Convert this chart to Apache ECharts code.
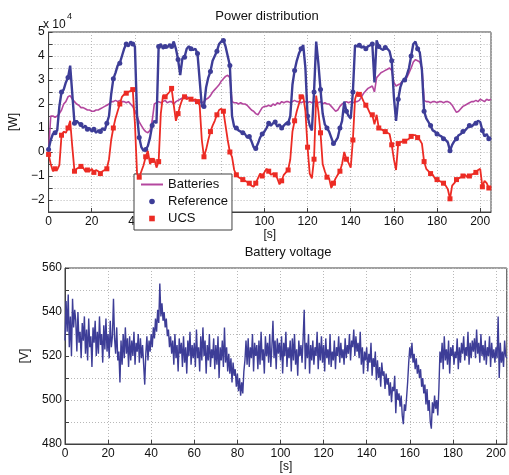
<!DOCTYPE html>
<html>
<head>
<meta charset="utf-8">
<script src="https://cdn.jsdelivr.net/npm/echarts@6/dist/echarts.min.js"></script>
<style>
  html, body { margin: 0; padding: 0; background: #fff; }
  #chart { width: 509px; height: 475px; }
</style>
</head>
<body>
<div id="chart"></div>
<script>
// power values in units of 1e4 W, one sample per second (0 .. 205 s)
const batteries = [
  0.0, 1.5, 1.5, 1.45, 1.5, 1.6, 1.75, 2.0, 2.1, 2.3, 2.35, 2.2, 2.1, 2.0, 1.95, 1.85, 1.85, 1.8, 1.75, 1.75,
  1.7, 1.7, 1.75, 1.75, 1.8, 1.85, 1.9, 1.95, 2.0, 2.1, 2.1, 2.15, 2.1, 2.15, 2.1, 2.1, 2.05, 2.1, 2.0, 1.9,
  1.7, 1.5, 1.25, 1.1, 0.95, 0.85, 0.8, 0.9, 1.3, 2.0, 2.05, 2.1, 2.05, 2.1, 2.15, 2.05, 2.1, 2.1, 2.0, 2.1,
  2.15, 2.2, 2.25, 2.3, 2.3, 2.25, 2.2, 2.15, 2.1, 2.1, 2.1, 2.05, 2.1, 2.2, 2.25, 2.35, 2.5, 2.6, 2.7, 2.8,
  2.95, 3.05, 3.15, 3.2, 3.1, 2.1, 2.05, 2.05, 2.0, 2.05, 2.0, 2.0, 1.95, 1.85, 1.75, 1.7, 1.6, 1.55, 1.7, 1.85,
  1.9, 1.9, 1.95, 1.9, 2.0, 1.95, 2.05, 2.0, 2.1, 2.05, 2.1, 2.1, 2.05, 2.1, 2.15, 2.1, 2.1, 2.05, 2.1, 2.1,
  2.05, 2.1, 2.05, 2.1, 2.1, 2.05, 2.1, 2.0, 2.05, 2.0, 2.0, 1.9, 1.8, 1.7, 1.75, 1.9, 2.0, 2.05, 2.1, 2.05,
  2.1, 2.05, 2.1, 2.1, 2.15, 2.3, 2.45, 2.55, 2.65, 2.7, 2.75, 2.5, 3.1, 3.2, 3.3, 3.35, 3.4, 3.45, 3.5, 3.4,
  2.9, 2.75, 2.8, 2.85, 2.95, 3.0, 3.1, 3.3, 3.5, 3.75, 3.85, 3.8, 3.75, 3.5, 2.15, 2.1, 2.1, 2.05, 2.1, 2.1,
  2.05, 2.1, 2.1, 2.05, 2.1, 2.1, 2.05, 1.95, 1.8, 1.65, 1.7, 1.8, 1.9, 1.95, 2.0, 2.05, 2.1, 2.1, 2.15, 2.1,
  2.2, 2.15, 2.1, 2.2, 2.15, 2.2
];
const reference = [
  0.1, 0.5, 0.75, 0.8, 0.9, 1.9, 2.5, 2.6, 2.9, 3.1, 3.6, 2.4, 1.2, 1.3, 1.2, 1.15, 1.0, 1.1, 0.95, 1.0,
  0.85, 0.95, 0.8, 0.9, 0.85, 1.0, 0.9, 1.2, 1.5, 2.4, 3.05, 3.3, 3.6, 3.7, 4.0, 4.3, 4.5, 4.4, 4.6, 4.5,
  4.4, 1.5, 0.6, 0.2, 0.05, 0.1, 0.25, 0.6, 1.1, 1.3, 1.2, 4.4, 4.5, 4.3, 4.4, 4.35, 4.5, 4.4, 4.6, 4.3,
  3.85, 3.2, 3.9, 3.95, 4.3, 4.4, 4.3, 4.25, 4.3, 4.1, 3.0, 1.9, 1.9, 2.7, 3.1, 3.35, 3.8, 4.0, 4.2, 4.5,
  4.6, 4.65, 4.4, 4.0, 3.6, 1.5, 1.05, 1.0, 0.9, 0.85, 0.8, 0.75, 0.6, 0.65, 0.45, 0.2, 0.15, 0.35, 0.6, 0.75,
  0.85, 1.0, 1.2, 1.1, 1.2, 1.25, 1.05, 1.15, 1.0, 1.1, 1.2, 1.2, 1.5, 2.8, 3.4, 3.8, 4.1, 4.3, 4.45, 3.5,
  1.5, 1.1, 0.9, 2.5, 4.6, 3.7, 2.6, 1.6, 1.15, 1.0, 0.85, 0.6, 0.35, 0.45, 0.6, 1.0, 1.3, 2.1, 1.7, 1.5,
  1.4, 2.5, 4.45, 4.4, 4.45, 4.35, 4.4, 4.3, 4.4, 4.45, 4.5, 2.9, 4.65, 4.4, 4.3, 4.25, 4.35, 4.3, 4.2, 3.8,
  2.3, 1.3, 2.2, 2.7, 2.95, 3.0, 3.2, 3.5, 4.0, 4.5, 4.6, 4.3, 4.15, 3.4, 1.7, 1.4, 1.25, 1.1, 0.9, 0.85,
  0.75, 0.7, 0.65, 0.55, 0.5, 0.4, 0.05, 0.3, 0.45, 0.55, 0.7, 0.75, 0.85, 0.9, 1.0, 1.1, 1.05, 1.15, 1.2, 1.3,
  1.25, 0.9, 0.65, 0.75, 0.55, 0.6
];
const ucs = [
  -0.1, -0.5, -0.8, -0.7, -0.75, -0.55, 0.7, 0.85, 0.8, 1.0, 1.3, 0.2, -0.8, -0.7, -0.65, -0.6, -0.65, -0.8, -0.75, -0.8,
  -0.7, -0.85, -0.75, -0.8, -0.9, -0.8, -0.75, -0.7, -0.3, 0.5, 1.0, 1.4, 1.7, 2.0, 2.3, 2.4, 2.45, 2.5, 2.55, 2.6,
  1.2, -0.9, -1.05, -0.8, -0.55, -0.2, 0.05, -0.5, -0.35, -0.3, -0.65, -0.4, 1.6, 2.35, 2.3, 2.4, 2.5, 2.65, 1.95, 1.3,
  1.6, 1.95, 2.2, 2.3, 2.2, 2.25, 2.2, 2.15, 2.2, 2.1, 1.95, 0.5, -0.2, 0.1, 0.5, 0.85, 1.1, 1.3, 1.55, 1.75,
  1.8, 1.7, 1.1, 0.5, 0.0, -0.2, -0.75, -0.95, -1.05, -1.1, -1.15, -1.2, -1.25, -1.3, -1.4, -1.45, -1.3, -1.1, -0.9, -1.0,
  -0.85, -0.7, -0.8, -0.95, -0.9, -0.95, -1.1, -1.35, -1.2, -0.95, -0.85, -0.75, -0.3, 0.85, 1.3, 1.7, 2.0, 2.3, 2.35, 1.7,
  0.2, -0.9, -1.1, -0.3, 2.35, 1.7, 0.8, -0.5, -0.8, -1.05, -1.1, -1.5, -1.3, -1.1, -0.95, -0.8, -0.5, 0.0, -0.3, -0.45,
  -0.65, 0.5, 2.2, 2.5, 2.4, 2.3, 2.1, 1.95, 1.8, 1.6, 1.55, 1.15, 1.55, 1.0, 0.95, 0.9, 0.85, 0.8, 0.75, 0.3,
  -0.3, -0.75, 0.35, 0.4, 0.45, 0.45, 0.5, 0.55, 0.65, 0.7, 0.7, 0.6, 0.5, 0.35, -0.4, -0.7, -0.8, -0.9, -0.95, -1.1,
  -1.15, -1.2, -1.25, -1.3, -1.4, -1.55, -1.95, -1.4, -1.3, -1.15, -1.1, -1.05, -1.0, -0.95, -1.05, -1.0, -0.95, -0.9, -0.85, -0.75,
  -0.7, -1.45, -1.2, -1.3, -1.5, -1.45
];

// battery voltage [V], one sample every 0.5 s
const voltage = [
  527, 545, 531, 548, 524, 538, 520, 546, 533, 541,
  536, 522, 540, 526, 531, 519, 535, 527, 538, 521,
  532, 518, 537, 524, 529, 515, 533, 526, 536, 520,
  531, 521, 538, 525, 530, 517, 534, 523, 537, 522,
  530, 519, 536, 524, 529, 546, 528, 521, 533, 518,
  522, 508, 527, 516, 530, 519, 533, 521, 528, 515,
  529, 518, 527, 520, 531, 516, 526, 522, 530, 517,
  528, 519, 525, 516, 507, 521, 529, 518, 527, 522,
  530, 524, 533, 528, 537, 531, 541, 535, 553, 538,
  544, 536, 540, 533, 537, 529, 532, 524, 529, 521,
  527, 516, 530, 519, 525, 513, 528, 521, 526, 515,
  529, 517, 524, 512, 527, 520, 531, 516, 525, 519,
  526, 515, 532, 519, 524, 513, 529, 518, 533, 520,
  527, 512, 525, 518, 530, 515, 523, 519, 528, 514,
  525, 516, 529, 510, 524, 518, 527, 515, 533, 517,
  524, 513, 521, 512, 519, 508, 517, 511, 514, 506,
  512, 504, 510, 502, 508, 503, 513, 518, 527, 516,
  528, 515, 524, 519, 530, 513, 526, 520, 525, 514,
  527, 516, 531, 518, 523, 512, 529, 520, 526, 517,
  530, 515, 524, 536, 519, 527, 514, 528, 521, 526,
  518, 529, 512, 526, 520, 531, 515, 524, 519, 527,
  513, 528, 518, 530, 516, 523, 511, 527, 520, 525,
  517, 528, 541, 514, 526, 519, 530, 512, 525, 518,
  527, 516, 524, 520, 531, 514, 526, 518, 529, 517,
  525, 513, 528, 519, 523, 516, 530, 515, 522, 518,
  527, 514, 524, 520, 529, 517, 526, 519, 523, 516,
  528, 519, 525, 521, 530, 518, 527, 524, 532, 520,
  529, 522, 526, 519, 531, 516, 524, 512, 522, 518,
  524, 513, 521, 517, 526, 511, 519, 515, 522, 509,
  518, 510, 515, 506, 517, 511, 513, 505, 512, 507,
  510, 502, 508, 499, 506, 504, 511, 494, 505, 500,
  503, 497, 502, 493, 489, 498, 495, 501, 508, 517,
  524, 519, 526, 517, 521, 514, 519, 512, 516, 510,
  514, 506, 510, 503, 507, 498, 505, 495, 500, 490,
  487, 499, 494, 502, 496, 500, 493, 505, 522, 517,
  526, 514, 529, 518, 523, 516, 527, 512, 524, 520,
  525, 516, 522, 519, 528, 514, 524, 517, 526, 521,
  529, 518, 524, 520, 531, 516, 526, 519, 527, 522,
  528, 519, 532, 521, 526, 517, 530, 520, 525, 518,
  527, 516, 524, 520, 529, 515, 526, 519, 523, 517,
  524, 519, 538, 510, 526, 517, 522, 515, 527, 520,
  519
];

const powerTime = batteries.map((_, i) => i)
const voltTime = voltage.map((_, i) => i * 0.5)
const markerEvery = 3

const navy = '#3d3d97'
const red = '#ec2b24'
const magenta = '#b4479e'
const font = 'Liberation Sans, Arial, Helvetica, sans-serif'

const minus = (v) => String(v).replace('-', '\u2212')

const pairs = (xs, ys) => ys.map((v, i) => [xs[i], v])
const withMarkers = (xs, ys, sym) => ys.map((v, i) => ({
  value: [xs[i], v],
  symbol: i % markerEvery === 0 ? sym : 'none'
}))

const dotted = { show: true, lineStyle: { color: '#b8b8b8', type: [1, 2], width: 1 } }
const axisLine = { show: true, onZero: false, lineStyle: { color: '#404040', width: 1 } }
const tick = { show: true, inside: true, length: 4, lineStyle: { color: '#404040' } }
const labelStyle = { color: '#111', fontSize: 12, fontFamily: font }

const chart = echarts.init(document.getElementById('chart'))

const option = {
  animation: false,
  backgroundColor: '#fff',
  title: [
    { text: 'Power distribution', left: 267, top: 10, textAlign: 'center', padding: 0,
      textStyle: { fontSize: 13, fontWeight: 'normal', color: '#111', fontFamily: font } },
    { text: 'Battery voltage', left: 288, top: 246, textAlign: 'center', padding: 0,
      textStyle: { fontSize: 13, fontWeight: 'normal', color: '#111', fontFamily: font } }
  ],
  graphic: [
    { type: 'text', left: 43, top: 19, style: { text: 'x 10', fontSize: 12, fontFamily: font, fill: '#111' } },
    { type: 'text', left: 67, top: 12, style: { text: '4', fontSize: 9, fontFamily: font, fill: '#111' } }
  ],
  grid: [
    { left: 42, top: 32, width: 449, height: 180, show: true, borderColor: '#404040', borderWidth: 1 },
    { left: 65, top: 268, width: 443, height: 176, show: true, borderColor: '#404040', borderWidth: 1 }
  ],
  legend: {
    left: 134, top: 174,
    orient: 'vertical',
    backgroundColor: '#fff',
    borderColor: '#404040',
    borderWidth: 1,
    borderRadius: 0,
    padding: [4, 4, 5, 6],
    itemWidth: 22,
    itemHeight: 7,
    itemGap: 4,
    textStyle: { fontSize: 13, fontFamily: font, color: '#111', lineHeight: 13 },
    data: [
      { name: 'Batteries', itemStyle: { opacity: 0 } },
      { name: 'Reference', lineStyle: { opacity: 0 } },
      { name: 'UCS', lineStyle: { opacity: 0 } }
    ]
  },
  xAxis: [
    { type: 'value', gridIndex: 0, min: 0, max: 205, interval: 20,
      name: '[s]', nameLocation: 'middle', nameGap: 17,
      nameTextStyle: { fontSize: 12, fontFamily: font, color: '#111' },
      axisLine, axisTick: tick, splitLine: dotted,
      axisLabel: { ...labelStyle, margin: 4, showMaxLabel: false } },
    { type: 'value', gridIndex: 1, min: 0, max: 205, interval: 20,
      name: '[s]', nameLocation: 'middle', nameGap: 16,
      nameTextStyle: { fontSize: 12, fontFamily: font, color: '#111' },
      axisLine, axisTick: tick, splitLine: dotted,
      axisLabel: { ...labelStyle, margin: 4, showMaxLabel: false } }
  ],
  yAxis: [
    { type: 'value', gridIndex: 0, min: -2.5, max: 5, interval: 0.5,
      name: '[W]', nameLocation: 'middle', nameGap: 24, nameRotate: 90,
      nameTextStyle: { fontSize: 12, fontFamily: font, color: '#111' },
      axisLine, axisTick: tick, splitLine: dotted,
      axisLabel: { ...labelStyle, margin: 4,
        formatter: (v) => Number.isInteger(v) ? minus(v) : '' } },
    { type: 'value', gridIndex: 1, min: 480, max: 560, interval: 10,
      name: '[V]', nameLocation: 'middle', nameGap: 24, nameRotate: 90,
      nameTextStyle: { fontSize: 12, fontFamily: font, color: '#111' },
      axisLine, axisTick: tick, splitLine: dotted,
      axisLabel: { ...labelStyle, margin: 3,
        formatter: (v) => v % 20 === 0 ? String(v) : '' } }
  ],
  series: [
    {
      name: 'Batteries', type: 'line', xAxisIndex: 0, yAxisIndex: 0,
      data: pairs(powerTime, batteries),
      symbol: 'none', showSymbol: false,
      lineStyle: { color: magenta, width: 1.6 }, itemStyle: { color: magenta },
      emphasis: { disabled: true }, z: 2
    },
    {
      name: 'Reference', type: 'line', xAxisIndex: 0, yAxisIndex: 0,
      data: withMarkers(powerTime, reference, 'circle'),
      symbol: 'circle', symbolSize: 5, showSymbol: true, showAllSymbol: true,
      lineStyle: { color: navy, width: 2.4 }, itemStyle: { color: navy },
      emphasis: { disabled: true }, z: 3
    },
    {
      name: 'UCS', type: 'line', xAxisIndex: 0, yAxisIndex: 0,
      data: withMarkers(powerTime, ucs, 'rect'),
      symbol: 'rect', symbolSize: 5, showSymbol: true, showAllSymbol: true,
      lineStyle: { color: red, width: 1.8 }, itemStyle: { color: red },
      emphasis: { disabled: true }, z: 4
    },
    {
      name: 'Voltage', type: 'line', xAxisIndex: 1, yAxisIndex: 1,
      data: pairs(voltTime, voltage),
      symbol: 'none', showSymbol: false,
      lineStyle: { color: navy, width: 1.4 },
      emphasis: { disabled: true }
    }
  ]
}

option && chart.setOption(option)
</script>
</body>
</html>
